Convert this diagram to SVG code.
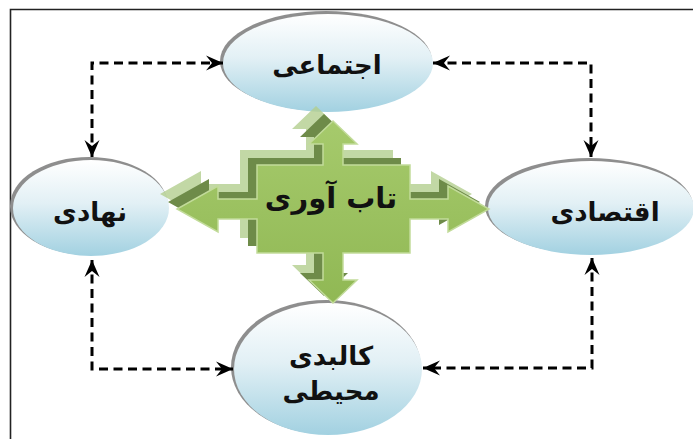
<svg xmlns="http://www.w3.org/2000/svg" width="693" height="439" viewBox="0 0 693 439">
<style>
.lbl{font-family:"DejaVu Sans",sans-serif;font-weight:bold;fill:#111;text-anchor:middle;direction:rtl}
.rim{fill:#8e8e8e}
.oval{fill:url(#blue)}
.dash{fill:none;stroke:#000;stroke-width:3;stroke-dasharray:9 5.5;marker-start:url(#ah);marker-end:url(#ah)}
</style>
<defs>
<linearGradient id="blue" x1="0" y1="0" x2="0" y2="1">
<stop offset="0" stop-color="#ffffff"/>
<stop offset="0.45" stop-color="#e2f0f5"/>
<stop offset="1" stop-color="#a2d1e1"/>
</linearGradient>
<linearGradient id="green" x1="0" y1="0" x2="0" y2="1">
<stop offset="0" stop-color="#a6ca6c"/>
<stop offset="1" stop-color="#90b854"/>
</linearGradient>
<marker id="ah" viewBox="0 0 18 18" refX="17" refY="9" markerWidth="18" markerHeight="18" markerUnits="userSpaceOnUse" orient="auto-start-reverse">
<path d="M0,1.5 L17,9 L0,16.5 L6,9 Z" fill="#000"/>
</marker>
<path id="quad" d="M257,165 H323 V144 H309 L333,121 L357,144 H343 V165 H410 V199 H448 V186 L489,209 L448,232 V219 H410 V253 H343 V280 H357 L333,303 L309,280 H323 V253 H257 V219 H218 V232 L177,209 L218,186 V199 H257 Z"/>
</defs>
<rect width="693" height="439" fill="#fff"/>
<path d="M10.5,439 V9.5 H693" fill="none" stroke="#222" stroke-width="1.6"/>

<g id="node-ejtemai">
<ellipse class="rim" cx="326" cy="61" rx="106" ry="50"/>
<ellipse class="oval" cx="328" cy="63" rx="105" ry="49"/>
<text class="lbl" x="327" y="74" font-size="26">اجتماعی</text>
</g>
<g id="node-nahadi">
<ellipse class="rim" cx="89" cy="206" rx="79" ry="49"/>
<ellipse class="oval" cx="91" cy="208" rx="78" ry="48"/>
<text class="lbl" x="90" y="221" font-size="26">نهادی</text>
</g>
<g id="node-eghtesadi">
<ellipse class="rim" cx="589" cy="206" rx="104" ry="48"/>
<ellipse class="oval" cx="591" cy="208" rx="103" ry="47"/>
<text class="lbl" x="605" y="221" font-size="26">اقتصادی</text>
</g>
<g id="node-kalbadi">
<ellipse class="rim" cx="326" cy="367" rx="95" ry="67"/>
<ellipse class="oval" cx="328" cy="369" rx="94" ry="66"/>
<text class="lbl" x="331" y="365" font-size="26">کالبدی</text>
<text class="lbl" x="331" y="400" font-size="26">محیطی</text>
</g>

<g id="connectors">
<path class="dash" d="M92,157 V63 H223"/>
<path class="dash" d="M433,63 H591 V157"/>
<path class="dash" d="M92,260 V369 H233"/>
<path class="dash" d="M592,258 V368 H423"/>
</g>

<g id="node-center">
<use href="#quad" transform="translate(-17,-15)" fill="#b3ce8e" opacity="0.8"/>
<use href="#quad" transform="translate(-9,-7)" fill="#6e8b49"/>
<use href="#quad" fill="url(#green)" stroke="#c2db9a" stroke-width="1.5"/>
<text class="lbl" x="331" y="208" font-size="29">تاب آوری</text>
</g>
</svg>
